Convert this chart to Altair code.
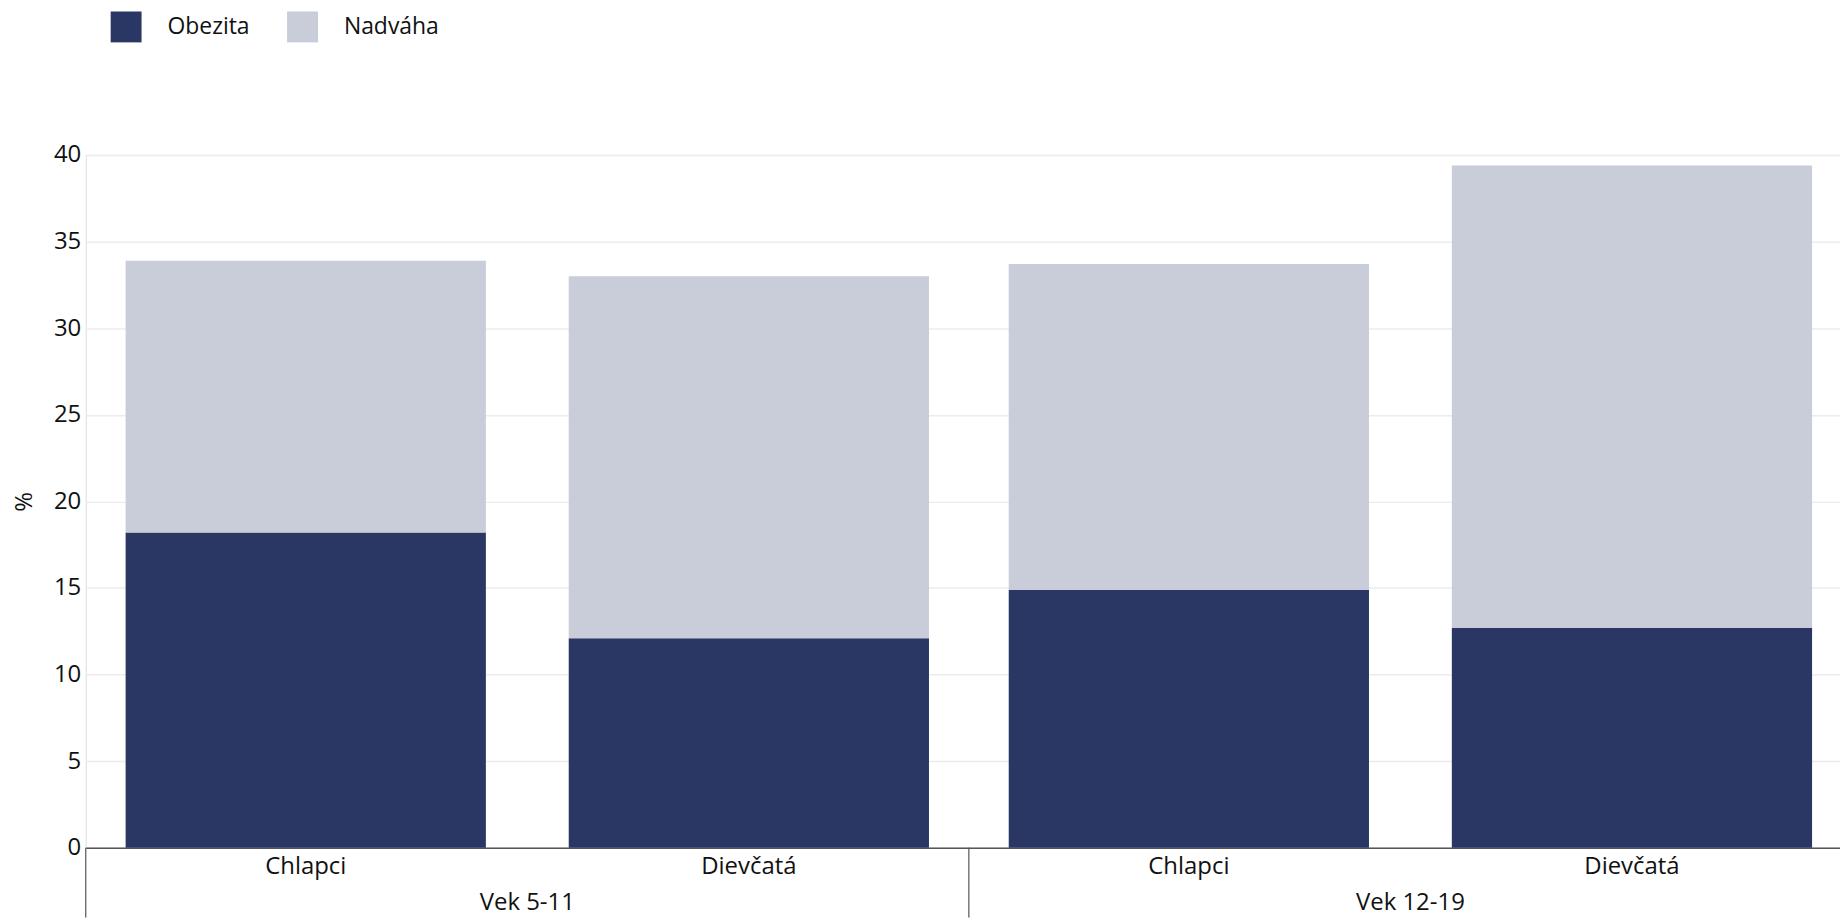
import altair as alt
import pandas as pd

groups = ["Vek 5-11", "Vek 5-11", "Vek 12-19", "Vek 12-19"]
genders = ["Chlapci", "Dievčatá", "Chlapci", "Dievčatá"]
obezita = [18.2, 12.1, 14.9, 12.7]
nadvaha = [15.7, 20.9, 18.8, 26.7]
series = ["Obezita", "Nadváha"]
colors = ["#2a3764", "#c9ccd9"]
group_order = ["Vek 5-11", "Vek 12-19"]
gender_order = ["Chlapci", "Dievčatá"]
y_ticks = [0, 5, 10, 15, 20, 25, 30, 35, 40]

rows = []
for g, s, o, n in zip(groups, genders, obezita, nadvaha):
    rows.append({"group": g, "gender": s, "series": "Obezita", "value": o, "ord": 0})
    rows.append({"group": g, "gender": s, "series": "Nadváha", "value": n, "ord": 1})
df = pd.DataFrame(rows)
lab = pd.DataFrame({"group": groups, "gender": genders})
seps = pd.DataFrame({"group": group_order})

W, H = 1772, 695
FONT = "Open Sans"

xenc = alt.X("group:N", sort=group_order,
             scale=alt.Scale(paddingInner=0, paddingOuter=0),
             axis=alt.Axis(title=None, ticks=False, labelPadding=43, labelFontSize=24,
                           labelColor="#111", domainColor="#555", domainWidth=1.5,
                           labelAngle=0))
xoff = alt.XOffset("gender:N", sort=gender_order,
                   scale=alt.Scale(paddingInner=0.187, paddingOuter=0.09))

bars = alt.Chart(df).mark_bar().encode(
    x=xenc,
    xOffset=xoff,
    y=alt.Y("value:Q", stack="zero",
            scale=alt.Scale(domain=[0, 40], nice=False),
            axis=alt.Axis(values=y_ticks, title="%", titleFontSize=24, titleFontWeight="normal",
                          titleColor="#111", labelFontSize=24, labelColor="#111",
                          labelPadding=5, titlePadding=17, ticks=False, domain=False,
                          grid=True, gridColor="#ececec", gridWidth=1.5)),
    color=alt.Color("series:N", scale=alt.Scale(domain=series, range=colors),
                    legend=alt.Legend(title=None, orient="none", legendX=25, legendY=-144,
                                      direction="horizontal", symbolType="square",
                                      symbolSize=961, symbolStrokeWidth=0,
                                      labelFontSize=23, labelOffset=26, columnPadding=37,
                                      labelColor="#111", padding=0)),
    order=alt.Order("ord:Q"),
)

gender_text = alt.Chart(lab).mark_text(fontSize=24, baseline="middle", color="#111", font=FONT).encode(
    x=alt.X("group:N", sort=group_order),
    xOffset=alt.XOffset("gender:N", sort=gender_order),
    y=alt.value(H + 19),
    text="gender:N",
)

sep_rules = alt.Chart(seps).mark_rule(color="#555", strokeWidth=1.2).encode(
    x=alt.X("group:N", sort=group_order, bandPosition=0),
    y=alt.value(H),
    y2=alt.value(H + 70),
)

chart = alt.layer(bars, sep_rules, gender_text).properties(
    width=W, height=H, padding={"left": 4, "top": 2, "right": -12, "bottom": 0}
).configure_view(stroke=None).configure(font=FONT)

chart.save("out.html", embed_options={"renderer": "svg", "actions": False})
